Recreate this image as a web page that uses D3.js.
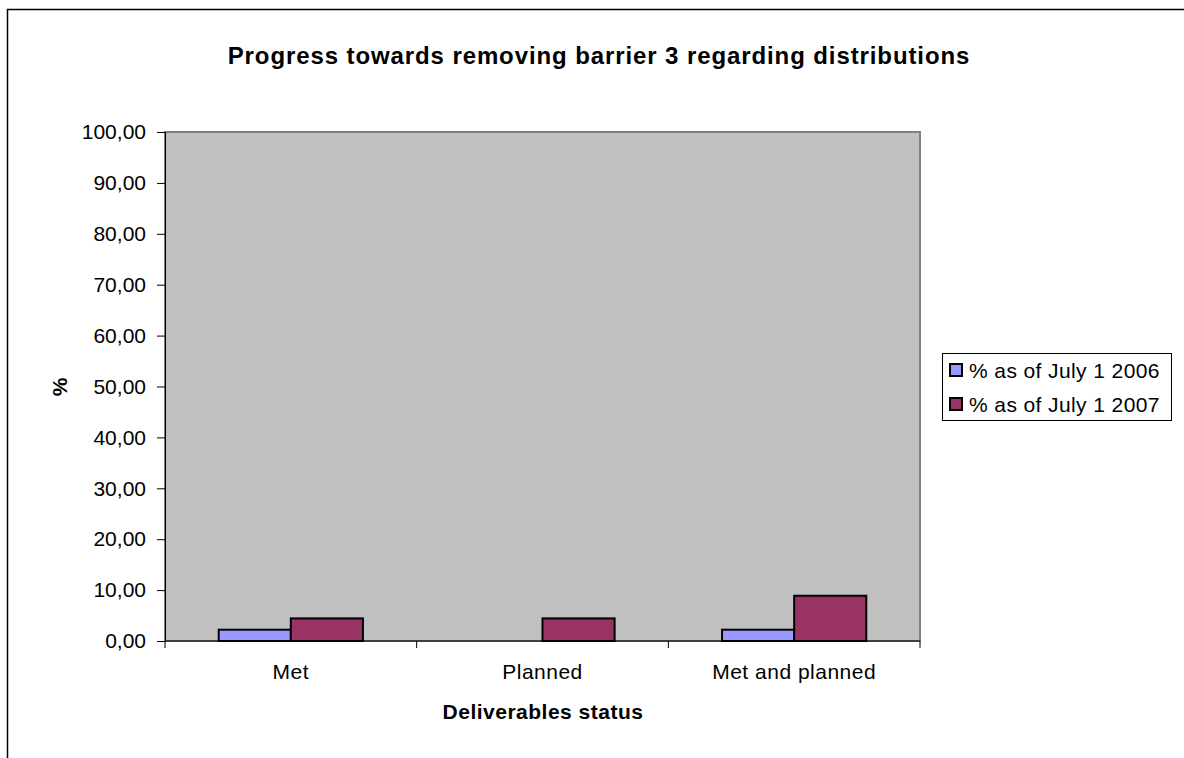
<!DOCTYPE html>
<html>
<head>
<meta charset="utf-8">
<script src="https://cdn.jsdelivr.net/npm/d3@7"></script>
<style>
  body { margin: 0; background: #fff; }
  svg { font-family: "Liberation Sans", Arial, sans-serif; }
</style>
</head>
<body>
<div id="chart"></div>
<script>
const categories = ["Met", "Planned", "Met and planned"];
const seriesNames = ["% as of July 1 2006", "% as of July 1 2007"];
const values2006 = [2.22, 0, 2.22];
const values2007 = [4.44, 4.44, 8.89];
const yTicks = [0, 10, 20, 30, 40, 50, 60, 70, 80, 90, 100];
const colors = ["#9999FF", "#993366"];

const width = 1184, height = 758,
    margin = ({ top: 132, right: 264, bottom: 117, left: 165 });

const svg = d3.select("#chart")
    .append("svg")
    .attr("width", width)
    .attr("height", height);

// outer chart frame (runs off the right and bottom edges)
svg.append("rect")
    .attr("x", 7.5).attr("y", 9.5)
    .attr("width", width + 10).attr("height", height + 10)
    .attr("fill", "none").attr("stroke", "#000").attr("stroke-width", 1.5);

svg.append("text")
    .attr("x", 599).attr("y", 64)
    .attr("text-anchor", "middle")
    .attr("font-size", 24).attr("font-weight", "bold")
    .attr("letter-spacing", 0.9)
    .text("Progress towards removing barrier 3 regarding distributions");

let x = d3.scaleBand()
    .domain(categories)
    .range([margin.left, width - margin.right]);

let xs = d3.scaleBand()
    .domain(seriesNames)
    .range([0, x.bandwidth()])
    .paddingOuter(0.745);

let y = d3.scaleLinear()
    .domain([0, 100])
    .range([height - margin.bottom, margin.top]);

svg.append("rect")
    .attr("x", margin.left).attr("y", margin.top)
    .attr("width", width - margin.left - margin.right)
    .attr("height", height - margin.top - margin.bottom)
    .attr("fill", "#C0C0C0")
    .attr("stroke", "#808080").attr("stroke-width", 2);

let series = [values2006, values2007];
series.forEach((vals, si) => {
    svg.append("g")
        .selectAll("rect")
        .data(categories)
        .join("rect")
        .filter((c, i) => vals[i] > 0)
        .attr("x", c => x(c) + xs(seriesNames[si]))
        .attr("y", c => y(vals[categories.indexOf(c)]))
        .attr("width", xs.bandwidth())
        .attr("height", c => y(0) - y(vals[categories.indexOf(c)]))
        .attr("fill", colors[si])
        .attr("stroke", "#000").attr("stroke-width", 2);
});

svg.append("g")
    .attr("transform", `translate(0,${height - margin.bottom})`)
    .call(d3.axisBottom(x).tickSize(0).tickPadding(23))
    .call(g => g.select(".domain").remove())
    .call(g => g.selectAll("text")
        .attr("font-size", 21).attr("letter-spacing", 0.5)
        .attr("fill", "#000").attr("font-family", "Liberation Sans, Arial"));

// category separators on the x axis
svg.append("g")
    .selectAll("line")
    .data(categories.concat(["end"]))
    .join("line")
    .attr("x1", (c, i) => i < categories.length ? x(c) : x.range()[1])
    .attr("x2", (c, i) => i < categories.length ? x(c) : x.range()[1])
    .attr("y1", height - margin.bottom)
    .attr("y2", height - margin.bottom + 7)
    .attr("stroke", "#000");

svg.append("line")
    .attr("x1", margin.left).attr("x2", width - margin.right)
    .attr("y1", height - margin.bottom).attr("y2", height - margin.bottom)
    .attr("stroke", "#000");

svg.append("g")
    .attr("transform", `translate(${margin.left},0)`)
    .call(d3.axisLeft(y).tickValues(yTicks).tickSize(8).tickPadding(11)
        .tickFormat(d => d3.format(".2f")(d).replace(".", ",")))
    .call(g => g.select(".domain").attr("stroke", "#000"))
    .call(g => g.selectAll("text")
        .attr("font-size", 21)
        .attr("fill", "#000").attr("font-family", "Liberation Sans, Arial"));

svg.append("text")
    .attr("x", 543).attr("y", 719)
    .attr("text-anchor", "middle")
    .attr("font-size", 21).attr("font-weight", "bold")
    .attr("letter-spacing", 0.5)
    .text("Deliverables status");

svg.append("text")
    .attr("transform", "translate(67,387) rotate(-90)")
    .attr("text-anchor", "middle")
    .attr("font-size", 21).attr("font-weight", "bold")
    .text("%");

// legend
let legend = svg.append("g");
legend.append("rect")
    .attr("x", 942.5).attr("y", 353.5)
    .attr("width", 229).attr("height", 67)
    .attr("fill", "#fff").attr("stroke", "#000");

seriesNames.forEach((name, i) => {
    legend.append("rect")
        .attr("x", 950).attr("y", 364 + i * 34)
        .attr("width", 12).attr("height", 12)
        .attr("fill", colors[i]).attr("stroke", "#000").attr("stroke-width", 2);
    legend.append("text")
        .attr("x", 969).attr("y", 378 + i * 34)
        .attr("font-size", 21).attr("letter-spacing", 0.4)
        .text(name);
});
</script>
</body>
</html>
